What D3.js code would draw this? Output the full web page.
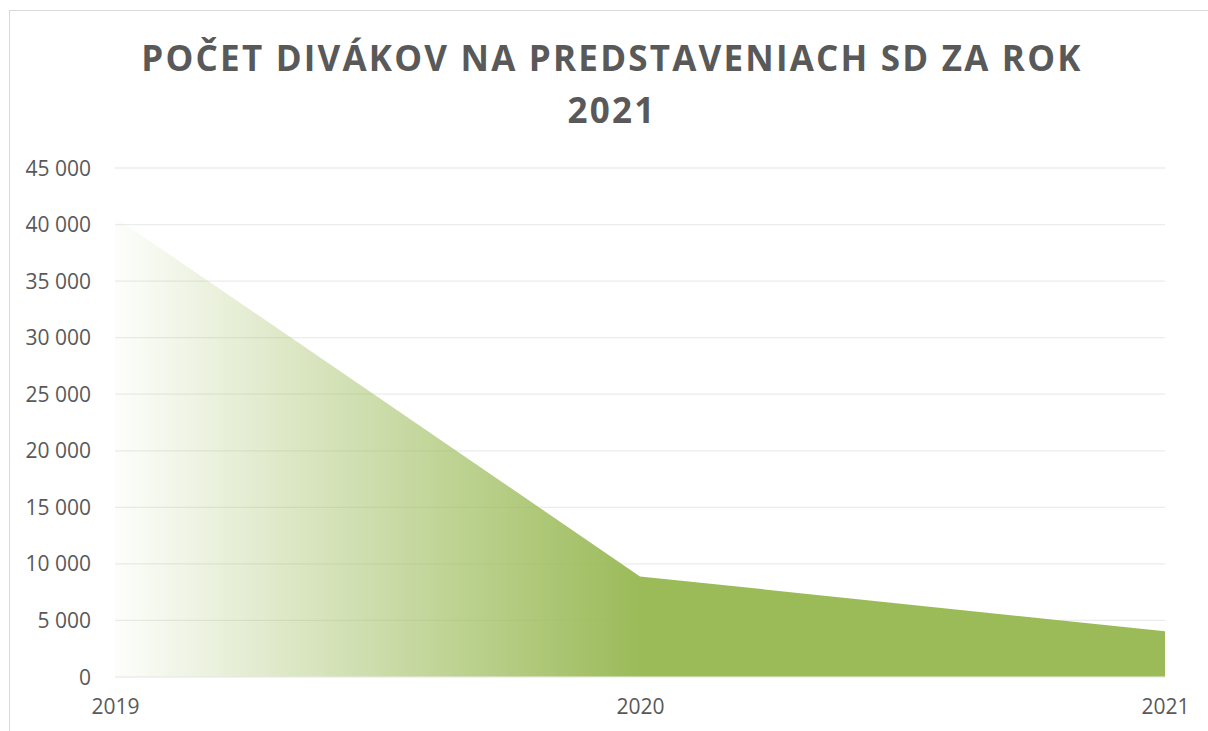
<!DOCTYPE html>
<html>
<head>
<meta charset="utf-8">
<script src="https://cdn.jsdelivr.net/npm/d3@7"></script>
<style>
body { margin: 0; background: #fff; }
svg { display: block; }
.tick text { font-family: "Open Sans", sans-serif; fill: #595959; }
</style>
</head>
<body>
<svg id="plot" width="1208" height="731"></svg>
<script>
const years = ['2019', '2020', '2021'];
const viewers = [40600, 8850, 4000];
const yTicks = [0, 5000, 10000, 15000, 20000, 25000, 30000, 35000, 40000, 45000];
const titleLines = ['POČET DIVÁKOV NA PREDSTAVENIACH SD ZA ROK', '2021'];

const svg = d3.select('#plot');

// outer frame of the chart
svg.append('rect')
  .attr('x', 9.5)
  .attr('y', 10.5)
  .attr('width', 1220)
  .attr('height', 740)
  .attr('fill', 'none')
  .attr('stroke', '#d9d9d9');

const plotLeft = 115, plotRight = 1165, plotTop = 167.5, plotBottom = 676.5;

const xScale = d3.scalePoint()
  .domain(years)
  .range([plotLeft, plotRight]);

const yScale = d3.scaleLinear()
  .domain([0, 45000])
  .range([plotBottom, plotTop]);

// gradient, white on the left to solid green around 2020
const defs = svg.append('defs');
const grad = defs.append('linearGradient')
  .attr('id', 'areaFill')
  .attr('gradientUnits', 'userSpaceOnUse')
  .attr('x1', plotLeft).attr('x2', plotRight)
  .attr('y1', 0).attr('y2', 0);
grad.append('stop').attr('offset', '0%').attr('stop-color', '#9bbb59').attr('stop-opacity', 0.02);
grad.append('stop').attr('offset', '50%').attr('stop-color', '#9bbb59').attr('stop-opacity', 1);
grad.append('stop').attr('offset', '100%').attr('stop-color', '#9bbb59').attr('stop-opacity', 1);

// horizontal grid
svg.append('g')
  .attr('class', 'grid')
  .attr('transform', `translate(${plotLeft}, 0)`)
  .call(d3.axisLeft(yScale)
    .tickValues(yTicks)
    .tickSize(-(plotRight - plotLeft))
    .tickFormat('')
  )
  .call(g => g.select('.domain').remove())
  .call(g => g.selectAll('line').attr('stroke', '#ececec').attr('stroke-width', 1.3));

const area = d3.area()
  .x((d, i) => xScale(years[i]))
  .y0(yScale(0))
  .y1(d => yScale(d));

svg.append('path')
  .datum(viewers)
  .attr('d', area)
  .attr('fill', 'url(#areaFill)');

// y axis labels
const fmt = v => d3.format(',')(v).replace(/,/g, ' ');
svg.append('g')
  .attr('transform', `translate(${plotLeft}, 0)`)
  .call(d3.axisLeft(yScale)
    .tickValues(yTicks)
    .tickSize(0)
    .tickPadding(24)
    .tickFormat(fmt)
  )
  .call(g => g.select('.domain').remove())
  .call(g => g.selectAll('text').attr('font-size', 21).attr('dy', '0.36em'));

// x axis labels
svg.append('g')
  .attr('transform', `translate(0, ${plotBottom})`)
  .call(d3.axisBottom(xScale).tickSize(0).tickPadding(23))
  .call(g => g.select('.domain').remove())
  .call(g => g.selectAll('text').attr('font-size', 21).attr('dy', '0.71em'));

svg.append('g')
  .selectAll('text')
  .data(titleLines)
  .enter()
  .append('text')
  .attr('x', 612)
  .attr('y', (d, i) => 71 + i * 52)
  .attr('text-anchor', 'middle')
  .attr('font-family', '"Open Sans", sans-serif')
  .attr('font-weight', 'bold')
  .attr('font-size', 35)
  .attr('letter-spacing', 2.2)
  .attr('fill', '#595959')
  .text(d => d);
</script>
</body>
</html>
